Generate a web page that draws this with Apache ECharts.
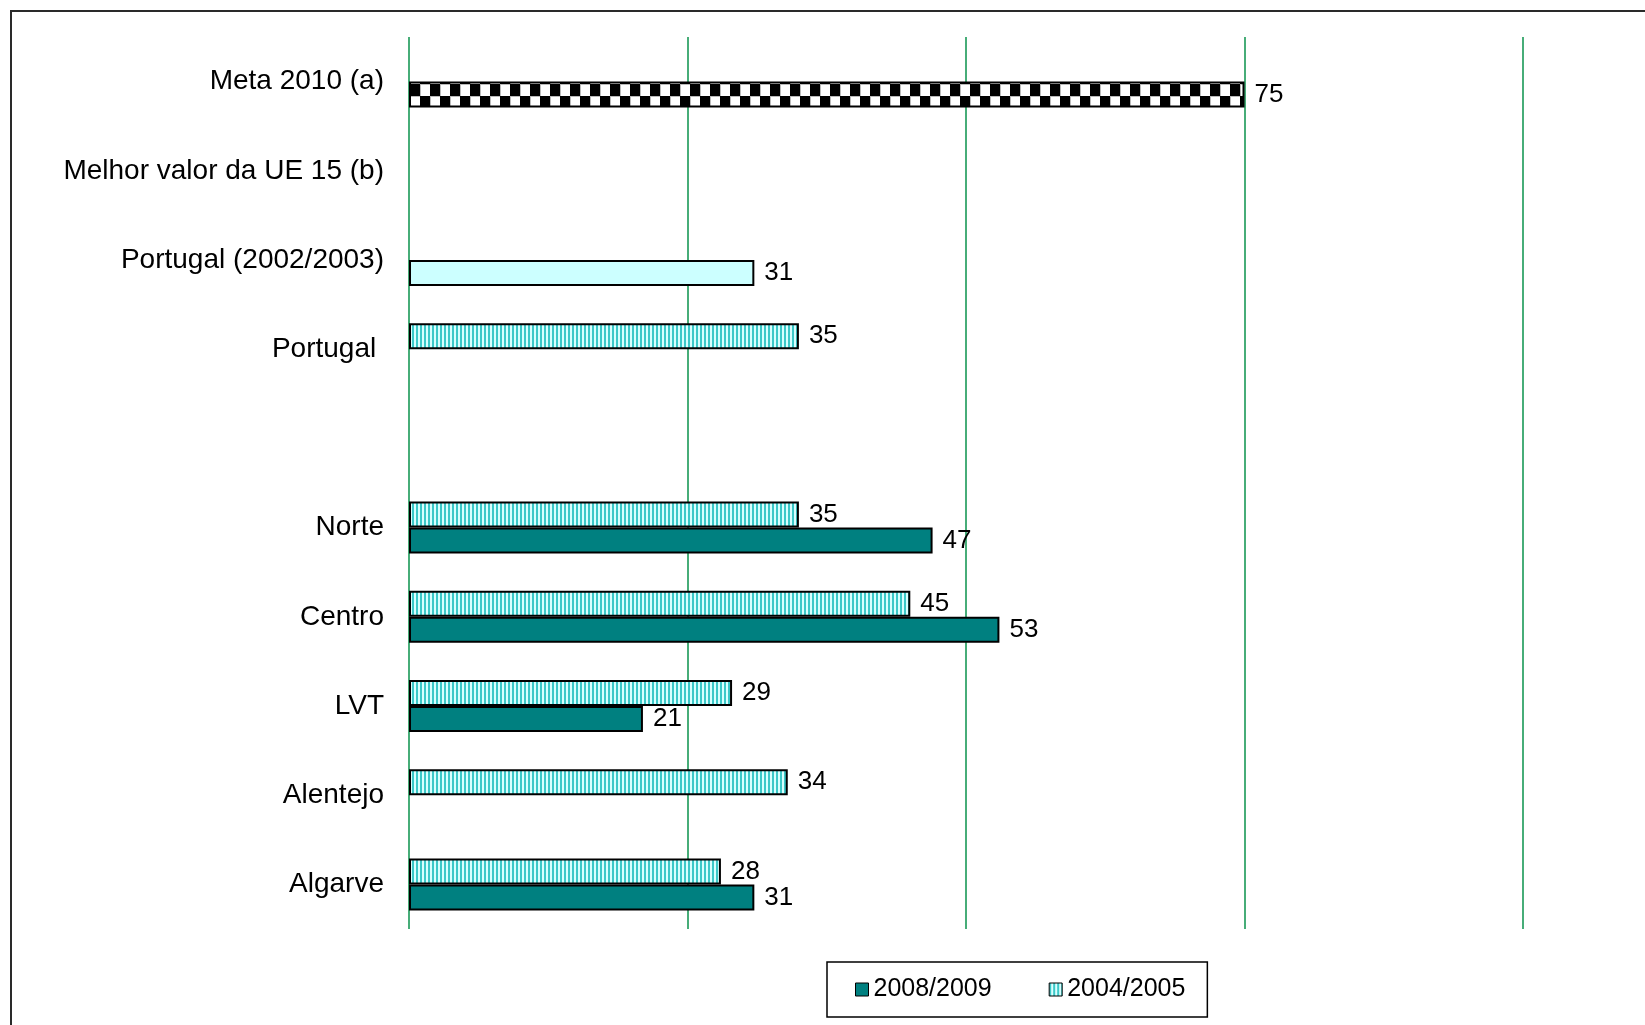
<!DOCTYPE html>
<html>
<head>
<meta charset="utf-8">
<script src="https://cdn.jsdelivr.net/npm/echarts@6/dist/echarts.min.js"></script>
<style>
html,body{margin:0;padding:0;background:#fff;}
#chart{width:1645px;height:1025px;}
</style>
</head>
<body>
<div id="chart"></div>
<script>
// ---- data ----
var categories = ['Meta 2010 (a)', 'Melhor valor da UE 15 (b)', 'Portugal (2002/2003)', 'Portugal ', '', 'Norte', 'Centro', 'LVT', 'Alentejo', 'Algarve'];
var seriesNames = ['2008/2009', '2004/2005'];
var values20082009 = [75, null, 31, null, null, 47, 53, 21, null, 31];
var values20042005 = [null, null, null, 35, null, 35, 45, 29, 34, 28];
var xTicks = [0, 25, 50, 75, 100];

// ---- patterns ----
function makeChecker() {
  var c = document.createElement('canvas');
  c.width = 20; c.height = 24;
  var g = c.getContext('2d');
  g.fillStyle = '#bbbbbb'; g.fillRect(0, 0, 20, 24);
  g.fillStyle = '#ffffff';
  g.fillRect(11, 1, 9, 11);
  g.fillRect(1, 13, 9, 11);
  g.fillStyle = '#000000';
  g.fillRect(0, 0, 10, 12);
  g.fillRect(10, 12, 10, 12);
  return c;
}
function makeHatch() {
  var c = document.createElement('canvas');
  c.width = 4; c.height = 4;
  var g = c.getContext('2d');
  g.fillStyle = '#d8ffff'; g.fillRect(0, 0, 4, 4);
  g.fillStyle = '#3cc8c8'; g.fillRect(0, 0, 2, 4);
  return c;
}
var checkerPattern = { image: makeChecker(), repeat: 'repeat' };
var hatchPattern = { image: makeHatch(), repeat: 'repeat' };
var darkTeal = '#008080';
var lightCyan = '#ccffff';

var pointStyles = {
  'Meta 2010 (a)': { color: checkerPattern },
  'Portugal (2002/2003)': { color: lightCyan }
};

function buildData(vals) {
  return vals.map(function (v, i) {
    if (v == null) return '-';
    var st = pointStyles[categories[i]];
    return st ? { value: v, itemStyle: st } : v;
  });
}

var labelStyle = {
  show: true, position: 'right', distance: 10, color: '#000',
  fontFamily: 'Liberation Sans, Arial, sans-serif', fontSize: 26,
  formatter: function (p) { return p.value; }
};

var chart = echarts.init(document.getElementById('chart'));
chart.setOption({
  animation: false,
  backgroundColor: '#fff',
  graphic: [{
    type: 'rect', z: -10, silent: true,
    shape: { x: 11, y: 11, width: 1700, height: 1100 },
    style: { fill: null, stroke: '#2a2a2a', lineWidth: 2 }
  }],
  grid: { left: 409, right: 122, top: 37, bottom: 96, containLabel: false },
  xAxis: {
    type: 'value', min: xTicks[0], max: xTicks[xTicks.length - 1], interval: 25,
    axisLabel: { show: false }, axisTick: { show: false }, axisLine: { show: false },
    splitLine: { show: true, lineStyle: { color: '#47ad78', width: 2 } }
  },
  yAxis: {
    type: 'category', data: categories, inverse: true,
    axisTick: { show: false }, axisLine: { show: false },
    axisLabel: { color: '#000', fontFamily: 'Liberation Sans, Arial, sans-serif', fontSize: 28, margin: 25 }
  },
  legend: {
    data: ['2008/2009', '2004/2005'],
    left: 827, top: 962,
    orient: 'horizontal',
    icon: 'rect',
    padding: [15, 22, 15, 28],
    itemGap: 57, itemWidth: 13, itemHeight: 13,
    borderColor: '#000', borderWidth: 1.5, borderRadius: 0,
    textStyle: { color: '#000', fontFamily: 'Liberation Sans, Arial, sans-serif', fontSize: 25 },
    itemStyle: { borderColor: '#000', borderWidth: 1 }
  },
  series: [
    {
      name: '2004/2005', type: 'bar', data: buildData(values20042005),
      barWidth: 26, barGap: '0%',
      itemStyle: { color: hatchPattern, borderColor: '#000', borderWidth: 2 },
      label: labelStyle
    },
    {
      name: '2008/2009', type: 'bar', data: buildData(values20082009),
      barWidth: 26, barGap: '0%',
      itemStyle: { color: darkTeal, borderColor: '#000', borderWidth: 2 },
      label: labelStyle
    }
  ]
});
</script>
</body>
</html>
